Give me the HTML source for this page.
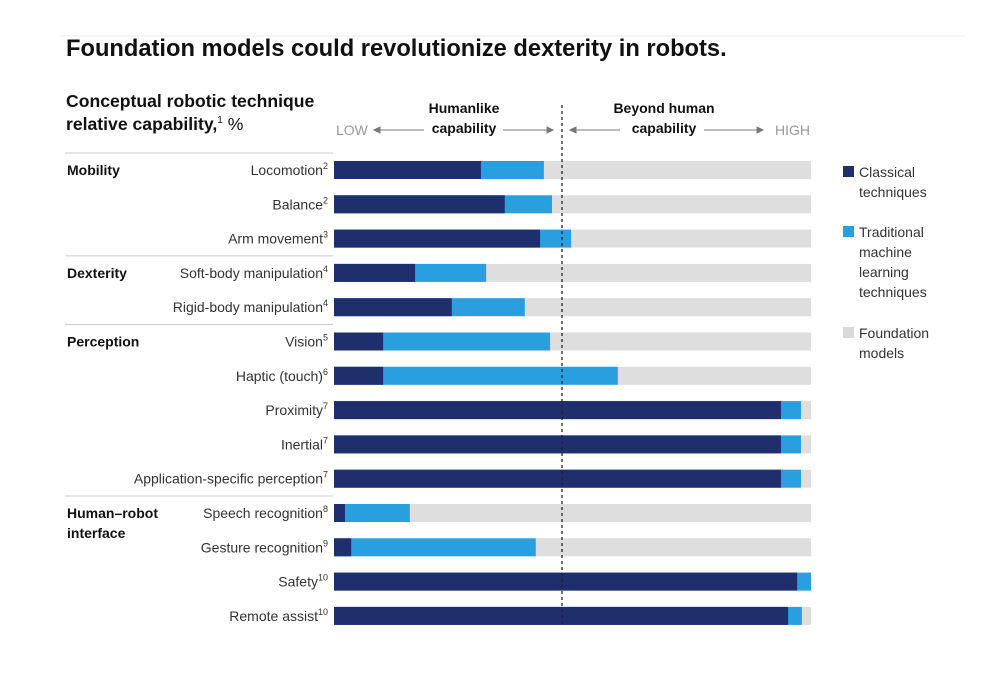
<!DOCTYPE html>
<html><head><meta charset="utf-8"><style>
body{margin:0;background:#fff;font-family:"Liberation Sans",sans-serif;}
svg text{font-family:"Liberation Sans",sans-serif;}
</style></head><body>
<svg id="chart" width="1006" height="675" xmlns="http://www.w3.org/2000/svg">
<text x="66" y="56" font-size="23.7" font-weight="bold" fill="#111">Foundation models could revolutionize dexterity in robots.</text>
<line x1="60" y1="36" x2="965" y2="36" stroke="#eee"/>
<text x="66" y="107" font-size="17.6" font-weight="bold" fill="#111">Conceptual robotic technique</text>
<text x="66" y="130" font-size="17.6" fill="#111"><tspan font-weight="bold">relative capability,</tspan><tspan font-size="10" dy="-7">1</tspan><tspan dy="7"> %</tspan></text>
<text x="336" y="135" font-size="14" fill="#999">LOW</text>
<text x="810" y="135" font-size="14" fill="#999" text-anchor="end">HIGH</text>
<text x="464" y="113" font-size="14" font-weight="bold" text-anchor="middle" fill="#111">Humanlike</text>
<text x="464" y="133" font-size="14" font-weight="bold" text-anchor="middle" fill="#111">capability</text>
<text x="664" y="113" font-size="14" font-weight="bold" text-anchor="middle" fill="#111">Beyond human</text>
<text x="664" y="133" font-size="14" font-weight="bold" text-anchor="middle" fill="#111">capability</text>
<g stroke="#777" fill="#777">
<line x1="376" y1="130" x2="424" y2="130"/><polygon points="374,130 380,127 380,133"/>
<line x1="503" y1="130" x2="550" y2="130"/><polygon points="553,130 547,127 547,133"/>
<line x1="572" y1="130" x2="620" y2="130"/><polygon points="570,130 576,127 576,133"/>
<line x1="704" y1="130" x2="760" y2="130"/><polygon points="763,130 757,127 757,133"/>
</g>
<g id="bars"></g>
<line x1="562" y1="105" x2="562" y2="626" stroke="#222" stroke-width="1.3" stroke-dasharray="3,3"/>
<g font-size="14" fill="#333">
<rect x="843" y="166" width="11" height="11" fill="#1f2f6e"/>
<text x="859" y="177">Classical</text><text x="859" y="197">techniques</text>
<rect x="843" y="226" width="11" height="11" fill="#2a9fe0"/>
<text x="859" y="237">Traditional</text><text x="859" y="257">machine</text><text x="859" y="277">learning</text><text x="859" y="297">techniques</text>
<rect x="843" y="327" width="11" height="11" fill="#d9d9d9"/>
<text x="859" y="338">Foundation</text><text x="859" y="358">models</text>
</g>
</svg>
<script>
const categories=["Locomotion","Balance","Arm movement","Soft-body manipulation","Rigid-body manipulation","Vision","Haptic (touch)","Proximity","Inertial","Application-specific perception","Speech recognition","Gesture recognition","Safety","Remote assist"];
const footnotes=["2","2","3","4","4","5","6","7","7","7","8","9","10","10"];
const classical=[30.8,35.8,43.2,17.0,24.7,10.3,10.3,93.7,93.7,93.7,2.3,3.6,97.1,95.2];
const traditionalEnd=[44.0,45.7,49.7,31.9,40.0,45.3,59.5,97.9,97.9,97.9,15.9,42.3,100,98.1];
const groups=[{name:"Mobility",row:0},{name:"Dexterity",row:3},{name:"Perception",row:5},{name:"Human–robot|interface",row:10}];
const NS="http://www.w3.org/2000/svg";
const g=document.getElementById('bars');
const x0=334,x1=811,y0=170,step=34.3,bh=18;
const xs=v=>x0+(x1-x0)*v/100;
const ys=i=>y0+i*step;
function mk(t,a){const e=document.createElementNS(NS,t);for(const k in a)e.setAttribute(k,a[k]);g.appendChild(e);return e;}
categories.forEach((c,i)=>{
  const y=ys(i)-bh/2;
  const bg=mk('rect',{x:x0,y:y,width:x1-x0,height:bh,fill:'#dedede'});
  
  
  const tb=mk('rect',{x:x0,y:y,width:xs(traditionalEnd[i])-x0,height:bh,fill:'#2a9fe0'});
  
  
  const cb=mk('rect',{x:x0,y:y,width:xs(classical[i])-x0,height:bh,fill:'#1f2f6e'});
  
  
  const t=mk('text',{x:328,y:ys(i)+5,'font-size':14,fill:'#333','text-anchor':'end'});
  
  
  t.innerHTML=c+'<tspan font-size="9" dy="-6">'+footnotes[i]+'</tspan>';
});
groups.forEach(gr=>{
  const yl=ys(gr.row)-17;
  const l=mk('line',{x1:65,y1:yl,x2:333,y2:yl,stroke:'#ccc'});
  
  
  gr.name.split('|').forEach((n,k)=>{
    const t=mk('text',{x:67,y:ys(gr.row)+5+k*20,'font-size':14,'font-weight':'bold',fill:'#111'});
    
    
    t.textContent=n;
  });
});
</script>
</body></html>
